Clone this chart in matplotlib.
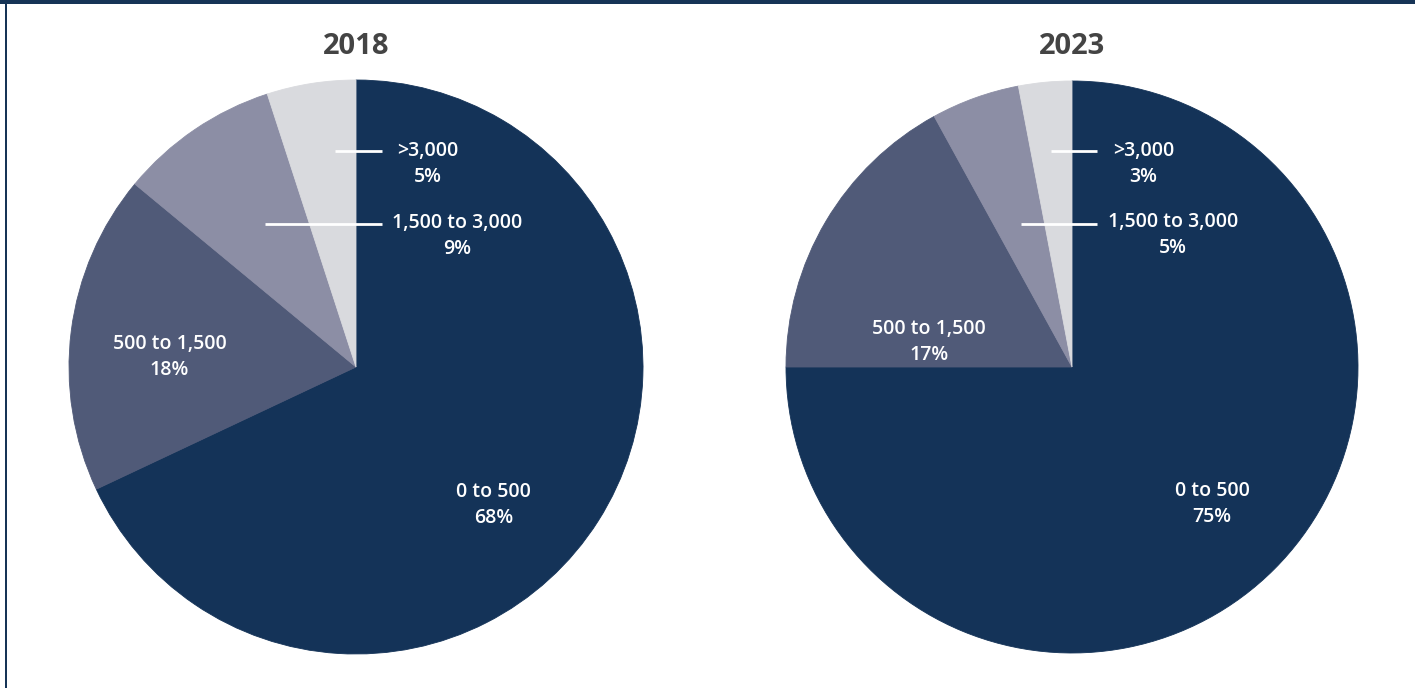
import matplotlib.pyplot as plt
from matplotlib.patches import Rectangle

plt.rcParams['font.family'] = ['Open Sans', 'DejaVu Sans']

# data
years = ['2018', '2023']
categories = ['0 to 500', '500 to 1,500', '1,500 to 3,000', '>3,000']
shares_2018 = [68, 18, 9, 5]
shares_2023 = [75, 17, 5, 3]

colors = ['#143358', '#505a78', '#8c8ea5', '#d9dade']

# label centres (in pie radius units), per year, in category order
label_pos = {
    '2018': [(0.48, -0.48), (-0.65, 0.035), (0.352, 0.455), (0.25, 0.707)],
    '2023': [(0.49, -0.48), (-0.50, 0.087), (0.353, 0.46), (0.25, 0.71)],
}
# leader lines for the two small slices: (x start, x end, y)
leaders = {
    '2018': [(-0.317, 0.091, 0.498), (-0.073, 0.091, 0.753)],
    '2023': [(-0.178, 0.087, 0.50), (-0.073, 0.087, 0.755)],
}

W, H = 1415, 688
fig = plt.figure(figsize=(W / 100, H / 100), dpi=100)
fig.patch.set_facecolor('white')

centres = [(356, 367, 287), (1072, 367, 286)]

for year, shares, (cx, cy, r) in zip(years, [shares_2018, shares_2023], centres):
    ax = fig.add_axes([(cx - r) / W, (H - cy - r) / H, 2 * r / W, 2 * r / H])
    wedges, _ = ax.pie(shares, colors=colors, startangle=90, counterclock=False,
                       radius=1)
    for w in wedges:
        w.set_edgecolor(w.get_facecolor())
        w.set_linewidth(0.6)
    ax.set_xlim(-1, 1)
    ax.set_ylim(-1, 1)
    ax.set_aspect('equal')
    ax.axis('off')

    for cat, val, (lx, ly) in zip(categories, shares, label_pos[year]):
        ax.text(lx, ly, f'{cat}\n{val}%', color='white', fontsize=14,
                fontweight='semibold', ha='center', va='center', linespacing=1.4)
    for x0, x1, y in leaders[year]:
        ax.plot([x0, x1], [y, y], color='white', linewidth=2, solid_capstyle='butt')

    fig.text(cx / W, 1 - 46 / H, year, fontsize=21, fontweight='bold',
             color='#444444', ha='center', va='center')

# frame
fig.add_artist(Rectangle((0, 1 - 4 / H), 1, 4 / H, transform=fig.transFigure,
                         color='#163456', lw=0))
fig.add_artist(Rectangle((5 / W, 0), 2 / W, 1, transform=fig.transFigure,
                         color='#163456', lw=0))

fig.savefig('out.png', dpi=100)
